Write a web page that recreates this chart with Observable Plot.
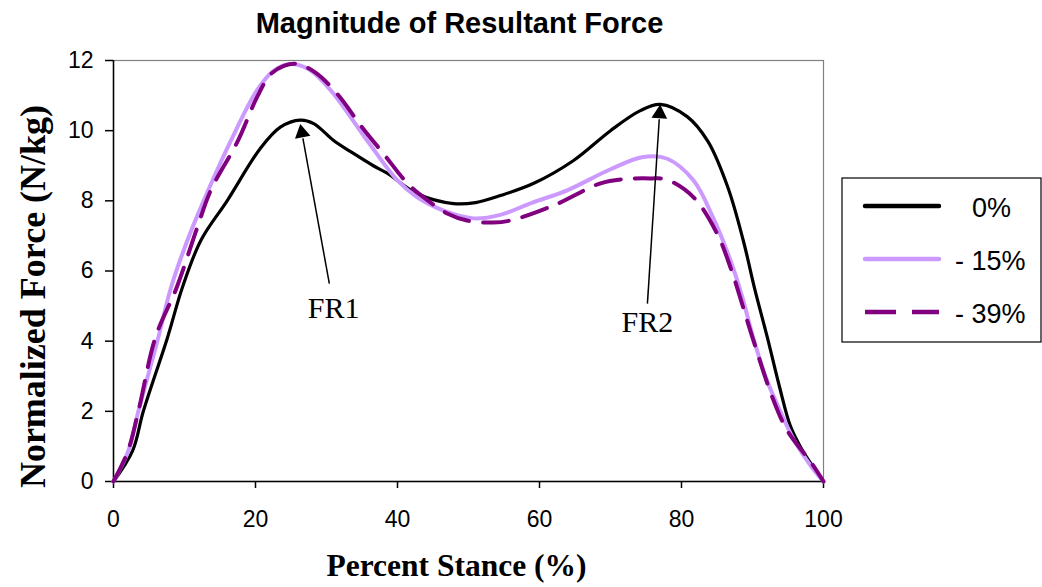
<!DOCTYPE html>
<html><head><meta charset="utf-8">
<script src="https://cdn.jsdelivr.net/npm/d3@7"></script>
<script src="https://cdn.jsdelivr.net/npm/@observablehq/plot@0.6"></script>
<style>body{margin:0;background:#fff}</style>
</head><body><div id="chart"></div>
<script>
// ---- data ----
const titleText = "Magnitude of Resultant Force";
const xLabel = "Percent Stance (%)";
const yLabel = "Normalized Force (N/kg)";
const seriesNames = ["0%", "- 15%", "- 39%"];
const xTicks = [0, 20, 40, 60, 80, 100];
const yTicks = [0, 2, 4, 6, 8, 10, 12];

const x0 = [0, 2.7, 4.2, 7.6, 9.7, 12.3, 16, 20.7, 23.5, 26.3, 28.2, 31, 33.8, 36.6, 38.6, 42.8, 47.9, 51, 54.5, 59.2, 64.8, 70, 74.2, 77, 80.8, 83.7, 86.5, 88.7, 90.3, 92.1, 93.8, 95.3, 96.8, 98.6, 100];
const y0 = [0, 0.88, 2.0, 4.1, 5.53, 6.87, 8.0, 9.5, 10.1, 10.3, 10.2, 9.72, 9.35, 9.0, 8.78, 8.2, 7.92, 7.95, 8.15, 8.5, 9.15, 10.0, 10.57, 10.75, 10.4, 9.7, 8.4, 6.87, 5.5, 4.1, 2.7, 1.6, 0.97, 0.4, 0];

const x15 = [0, 2.1, 3.5, 6.3, 8.1, 10.4, 12.7, 16.5, 20.2, 22.5, 24.9, 27.5, 30.6, 35.8, 40, 42.8, 46.5, 50.7, 54.5, 59, 63.9, 70, 74.6, 78, 81.7, 84.5, 86.9, 88.5, 90.1, 92, 93.7, 95.8, 98.2, 100];
const y15 = [0, 0.88, 2.0, 4.1, 5.53, 6.87, 8.0, 9.7, 11.15, 11.7, 11.9, 11.75, 11.15, 9.7, 8.58, 8.1, 7.72, 7.5, 7.6, 7.95, 8.3, 8.9, 9.25, 9.2, 8.58, 7.5, 6.3, 5.3, 4.1, 2.9, 2.1, 1.2, 0.45, 0];

const x39 = [0, 2, 3.5, 5.9, 8.9, 11.8, 13.7, 17.5, 20.2, 22.1, 24, 25.9, 28.5, 31.5, 35, 38, 41.4, 43.7, 47, 49.8, 53.5, 55.9, 62, 68.6, 72, 75.6, 78, 81.7, 85, 86.9, 90, 92.8, 94.9, 98.4, 100];
const y39 = [0, 0.85, 2.0, 4.1, 5.53, 7.24, 8.3, 9.7, 10.95, 11.6, 11.85, 11.9, 11.65, 11.05, 10.1, 9.35, 8.5, 8.1, 7.64, 7.44, 7.38, 7.44, 7.87, 8.5, 8.62, 8.64, 8.6, 8.1, 7.07, 6.1, 4.1, 2.4, 1.45, 0.5, 0];

const annLabels = ["FR1", "FR2"];
const annTipX = [26.3, 77.0];
const annTipY = [10.2, 10.75];
const annTailX = [30.4, 75.2];
const annTailY = [5.64, 5.07];
const annTextX = [31.0, 75.2];
const annTextY = [4.93, 4.53];

// ---- build ----
const W = 1042, H = 587;
const mL = 113, mR = 219, mT = 60, mB = 106;
const sx = d3.scaleLinear([0, 100], [mL, W - mR]);
const sy = d3.scaleLinear([0, 12], [H - mB, mT]);

const toRows = (xs, ys, s) => xs.map((x, i) => ({x, y: ys[i], s}));
const rows0 = toRows(x0, y0, seriesNames[0]);
const rows15 = toRows(x15, y15, seriesNames[1]);
const rows39 = toRows(x39, y39, seriesNames[2]);

const headLen = 15;
const ann = annLabels.map((label, i) => {
  const tx = sx(annTipX[i]), ty = sy(annTipY[i]);
  const ax = sx(annTailX[i]), ay = sy(annTailY[i]);
  const dx = tx - ax, dy = ty - ay, L = Math.hypot(dx, dy);
  const ux = dx / L, uy = dy / L;
  const bx = tx - ux * headLen, by = ty - uy * headLen;
  const cx = tx - ux * headLen * 0.62, cy = ty - uy * headLen * 0.62;
  return {
    label,
    x1: annTailX[i], y1: annTailY[i],
    x2: sx.invert(bx), y2: sy.invert(by),
    hx: sx.invert(cx), hy: sy.invert(cy),
    rot: Math.atan2(dx, -dy) * 180 / Math.PI,
    lx: annTextX[i], ly: annTextY[i]
  };
});

const serif = "'Liberation Serif', 'Times New Roman', serif";
const sans = "'Liberation Sans', Arial, sans-serif";

const chart = Plot.plot({
  width: W, height: H,
  marginLeft: mL, marginRight: mR, marginTop: mT, marginBottom: mB,
  style: {fontFamily: sans, fontSize: "23px", color: "black", background: "white", overflow: "visible"},
  x: {domain: [0, 100]},
  y: {domain: [0, 12]},
  marks: [
    Plot.frame({stroke: "#808080", strokeWidth: 1.2}),
    Plot.axisX({ticks: xTicks, tickSize: 7, tickPadding: 22, label: null, fontSize: 23, strokeWidth: 1.5, strokeOpacity: 1}),
    Plot.axisY({ticks: yTicks, tickSize: 8, tickPadding: 12, label: null, fontSize: 23, strokeWidth: 1.5, strokeOpacity: 1}),
    Plot.ruleX([0], {stroke: "black", strokeWidth: 1.5}),
    Plot.ruleY([0], {stroke: "black", strokeWidth: 1.5}),
    Plot.line(rows0, {x: "x", y: "y", stroke: "black", strokeWidth: 3.2, curve: "catmull-rom"}),
    Plot.line(rows15, {x: "x", y: "y", stroke: "#CC99FF", strokeWidth: 4, curve: "catmull-rom"}),
    Plot.line(rows39, {x: "x", y: "y", stroke: "#800080", strokeWidth: 4, strokeDasharray: "26,14", curve: "catmull-rom"}),
    Plot.link(ann, {x1: "x1", y1: "y1", x2: "x2", y2: "y2", stroke: "black", strokeWidth: 1.5}),
    Plot.dot(ann, {x: "hx", y: "hy", symbol: "triangle2", r: 7.5, fill: "black", stroke: "none", rotate: "rot"}),
    Plot.text(ann, {x: "lx", y: "ly", text: "label", fontFamily: serif, fontSize: 30, fill: "black"}),
    Plot.text([titleText], {frameAnchor: "top", textAnchor: "middle", lineAnchor: "middle", dx: -9, dy: -37, fontFamily: sans, fontWeight: "bold", fontSize: 29, fill: "black"}),
    Plot.text([xLabel], {frameAnchor: "bottom", textAnchor: "middle", lineAnchor: "middle", dx: -12, dy: 84, fontFamily: serif, fontWeight: "bold", fontSize: 31.5, fill: "black"}),
    Plot.text([yLabel], {frameAnchor: "left", textAnchor: "middle", lineAnchor: "middle", dx: -80, dy: 25.5, rotate: -90, fontFamily: serif, fontWeight: "bold", fontSize: 36, fill: "black"})
  ]
});

// legend
const svg = d3.select(chart);
const lg = svg.append("g").attr("class", "legend").attr("text-anchor", "start");
lg.append("rect").attr("x", 842).attr("y", 178).attr("width", 199).attr("height", 164)
  .attr("fill", "white").attr("stroke", "black").attr("stroke-width", 1.2);
const legStyles = [
  {stroke: "black", width: 4.5, dash: null},
  {stroke: "#CC99FF", width: 4.5, dash: null},
  {stroke: "#800080", width: 4.5, dash: "31,16"}
];
seriesNames.forEach((name, i) => {
  const yy = 206 + i * 53;
  lg.append("line").attr("x1", 865).attr("x2", 939).attr("y1", yy).attr("y2", yy)
    .attr("stroke", legStyles[i].stroke).attr("stroke-width", legStyles[i].width)
    .attr("stroke-linecap", legStyles[i].dash ? "butt" : "round")
    .attr("stroke-dasharray", legStyles[i].dash);
  lg.append("text").attr("x", name.startsWith("-") ? 955 : 972).attr("y", yy + 11)
    .attr("text-anchor", "start")
    .attr("font-family", sans).attr("font-size", 27).attr("fill", "black").text(name);
});

document.getElementById("chart").appendChild(chart);
</script>
</body></html>
